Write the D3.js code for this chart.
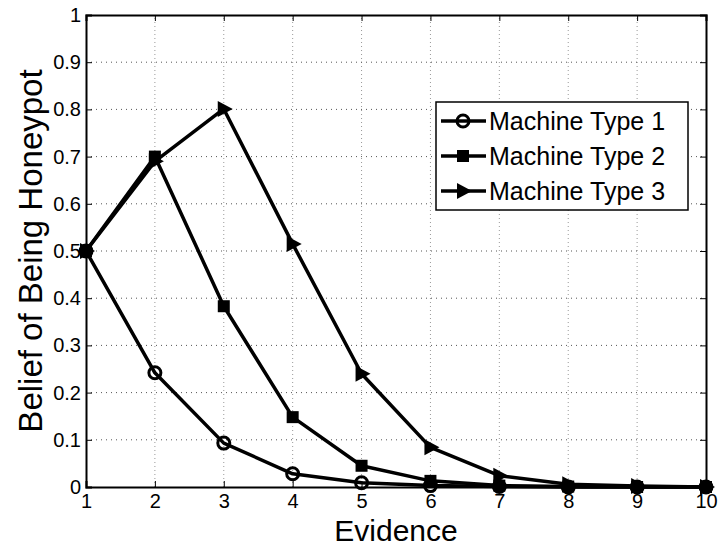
<!DOCTYPE html>
<html>
<head>
<meta charset="utf-8">
<script src="https://cdn.jsdelivr.net/npm/d3@7"></script>
<style>
  body { margin: 0; background: #fff; }
  text { font-family: "Liberation Sans", Arial, Helvetica, sans-serif; fill: #000; }
</style>
</head>
<body>
<div id="chart"></div>
<script>
var width = 719, height = 548;
var margin = {top: 15, right: 13, bottom: 61, left: 86};

// values
var evidence = [1, 2, 3, 4, 5, 6, 7, 8, 9, 10];
var type1 = [0.5, 0.242, 0.093, 0.028, 0.009, 0.003, 0.001, 0.0, 0.0, 0.0];
var type2 = [0.5, 0.700, 0.383, 0.148, 0.045, 0.013, 0.003, 0.001, 0.0, 0.0];
var type3 = [0.5, 0.690, 0.801, 0.515, 0.240, 0.084, 0.024, 0.006, 0.002, 0.0];
var seriesNames = ["Machine Type 1", "Machine Type 2", "Machine Type 3"];
var markers = ["circle", "square", "triangle"];
var yTicks = [0, 0.1, 0.2, 0.3, 0.4, 0.5, 0.6, 0.7, 0.8, 0.9, 1];

var series = [type1, type2, type3].map(function(vals, i) {
  return {name: seriesNames[i], marker: markers[i],
    values: vals.map(function(v, j) { return {x: evidence[j], y: v}; })};
});

var svg = d3.select("#chart").append("svg")
  .attr("width", width)
  .attr("height", height);

var plotW = width - margin.left - margin.right;
var plotH = height - margin.top - margin.bottom;

var x = d3.scaleLinear().domain([1, 10]).range([margin.left, margin.left + plotW]);
var y = d3.scaleLinear().domain([0, 1]).range([margin.top + plotH, margin.top]);

// grid
svg.append("g").selectAll("line").data(evidence.slice(1, -1)).enter().append("line")
  .attr("x1", function(d) { return x(d); }).attr("x2", function(d) { return x(d); })
  .attr("y1", y(0)).attr("y2", y(1))
  .attr("stroke", "#999").attr("stroke-width", 1).attr("stroke-dasharray", "1,3");
svg.append("g").selectAll("line").data(yTicks.slice(1, -1)).enter().append("line")
  .attr("x1", x(1)).attr("x2", x(10))
  .attr("y1", function(d) { return y(d); }).attr("y2", function(d) { return y(d); })
  .attr("stroke", "#555").attr("stroke-width", 1).attr("stroke-dasharray", "1,4");

// axes (ticks inward, MATLAB style)
var xAxis = svg.append("g").attr("transform", "translate(0," + y(0) + ")")
  .call(d3.axisBottom(x).tickValues(evidence).tickSize(-6).tickPadding(7).tickFormat(d3.format("d")));
var yAxis = svg.append("g").attr("transform", "translate(" + x(1) + ",0)")
  .call(d3.axisLeft(y).tickValues(yTicks).tickSize(-6).tickPadding(5).tickFormat(function(d) { return d === 0 || d === 1 ? d : d3.format(".1f")(d); }));
svg.append("g").attr("transform", "translate(0," + y(1) + ")")
  .call(d3.axisTop(x).tickValues(evidence).tickSize(-6).tickFormat(""));
svg.append("g").attr("transform", "translate(" + x(10) + ",0)")
  .call(d3.axisRight(y).tickValues(yTicks).tickSize(-6).tickFormat(""));

svg.selectAll(".domain").attr("stroke", "#000").attr("stroke-width", 2);
svg.selectAll(".tick line").attr("stroke", "#000").attr("stroke-width", 1);
xAxis.attr("font-size", 20).attr("font-family", "Liberation Sans, Arial, sans-serif");
yAxis.attr("font-size", 20).attr("font-family", "Liberation Sans, Arial, sans-serif");

// lines
var line = d3.line().x(function(d) { return x(d.x); }).y(function(d) { return y(d.y); });
svg.append("g").selectAll("path").data(series).enter().append("path")
  .attr("d", function(d) { return line(d.values); })
  .attr("fill", "none").attr("stroke", "#000").attr("stroke-width", 3.5)
  .attr("stroke-linejoin", "round");

function drawMarker(g, type, cx, cy) {
  if (type === "circle") {
    g.append("circle").attr("cx", cx).attr("cy", cy).attr("r", 6)
      .attr("fill", "none").attr("stroke", "#000").attr("stroke-width", 3);
  } else if (type === "square") {
    g.append("rect").attr("x", cx - 6).attr("y", cy - 6).attr("width", 12).attr("height", 12)
      .attr("fill", "#000");
  } else {
    g.append("path").attr("d", "M" + (cx + 9) + "," + cy + "L" + (cx - 6) + "," + (cy - 8) + "L" + (cx - 6) + "," + (cy + 8) + "Z")
      .attr("fill", "#000");
  }
}

var markG = svg.append("g");
series.forEach(function(s) {
  s.values.forEach(function(p) { drawMarker(markG, s.marker, x(p.x), y(p.y)); });
});

// legend
var legend = svg.append("g");
legend.append("rect").attr("x", 436).attr("y", 102).attr("width", 252).attr("height", 108)
  .attr("fill", "#fff").attr("stroke", "#000").attr("stroke-width", 1.5);
series.forEach(function(s, i) {
  var ly = 121 + i * 35;
  legend.append("line").attr("x1", 441).attr("x2", 486).attr("y1", ly).attr("y2", ly)
    .attr("stroke", "#000").attr("stroke-width", 3.5);
  drawMarker(legend, s.marker, 463, ly);
  legend.append("text").attr("x", 489).attr("y", ly + 9).attr("font-size", 25).text(s.name);
});

// axis titles
svg.append("text").attr("x", x(5.5)).attr("y", 541).attr("text-anchor", "middle")
  .attr("font-size", 30).text("Evidence");
svg.append("text").attr("transform", "translate(42," + y(0.5) + ") rotate(-90)")
  .attr("text-anchor", "middle").attr("font-size", 33).text("Belief of Being Honeypot");
</script>
</body>
</html>
